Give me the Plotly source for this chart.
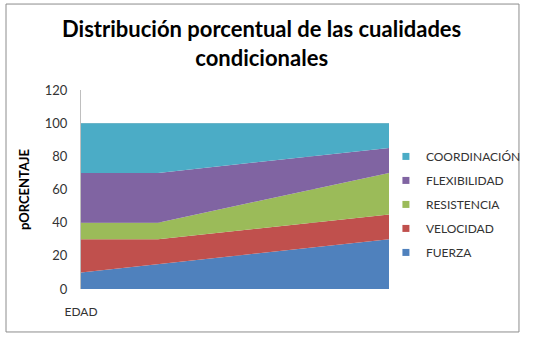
import plotly.graph_objects as go

# Data
edad_x = [0, 1, 4]
tick_labels = ["EDAD"]
series_names = ["FUERZA", "VELOCIDAD", "RESISTENCIA", "FLEXIBILIDAD", "COORDINACIÓN"]
fuerza = [10, 15, 30]
velocidad = [20, 15, 15]
resistencia = [10, 10, 25]
flexibilidad = [30, 30, 15]
coordinacion = [30, 30, 15]
colors = ["#4F81BD", "#C0504D", "#9BBB59", "#8064A2", "#4BACC6"]

values = [fuerza, velocidad, resistencia, flexibilidad, coordinacion]

fig = go.Figure()
for name, vals, col in zip(series_names, values, colors):
    fig.add_trace(go.Scatter(
        x=edad_x, y=vals, name=name, mode="lines", stackgroup="one",
        line=dict(width=0, color=col), fillcolor=col, showlegend=False,
        hoverinfo="skip"))
# legend entries (top to bottom: COORDINACIÓN ... FUERZA)
for name, col in reversed(list(zip(series_names, colors))):
    fig.add_trace(go.Scatter(
        x=[None], y=[None], name=name, mode="markers", legendgroup=name,
        marker=dict(symbol="square", size=7, color=col), showlegend=True))

fig.update_layout(
    width=534, height=338,
    margin=dict(l=81, r=145, t=90, b=49, autoexpand=False),
    paper_bgcolor="white", plot_bgcolor="white",
    font=dict(family="Lato", color="#333333", size=12),
    title=dict(text="Distribución porcentual de las cualidades<br>condicionales",
               x=0.49, xanchor="center", y=0.89, yanchor="top",
               font=dict(family="Lato", size=22, color="black", weight="bold")),
    xaxis=dict(range=[0, 4], showgrid=False, zeroline=False, showline=False,
               tickvals=[edad_x[0]], ticktext=tick_labels, ticks="",
               ticklabelstandoff=14,
               tickfont=dict(size=12, color="#333333")),
    yaxis=dict(range=[0, 120], dtick=20, showgrid=True, gridcolor="#D0D0D0",
               zeroline=False, showline=True, linecolor="#BFBFBF", ticks="",
               ticklabelstandoff=10,
               tickfont=dict(size=13, color="#333333"),
               title=dict(text="<b>pORCENTAJE</b>", standoff=12,
                          font=dict(size=13, color="black"))),
    legend=dict(x=0.99, xanchor="left", y=0.425, yanchor="middle",
                bgcolor="rgba(0,0,0,0)",
                traceorder="grouped", itemwidth=30, tracegroupgap=5,
                font=dict(size=12, color="#333333")),
    shapes=[dict(type="rect", xref="paper", yref="paper",
                 x0=-0.2435, x1=1.422, y0=-0.216, y1=1.432,
                 line=dict(color="#8C8C8C", width=1), fillcolor="rgba(0,0,0,0)")],
)
fig.write_html("out.html")
